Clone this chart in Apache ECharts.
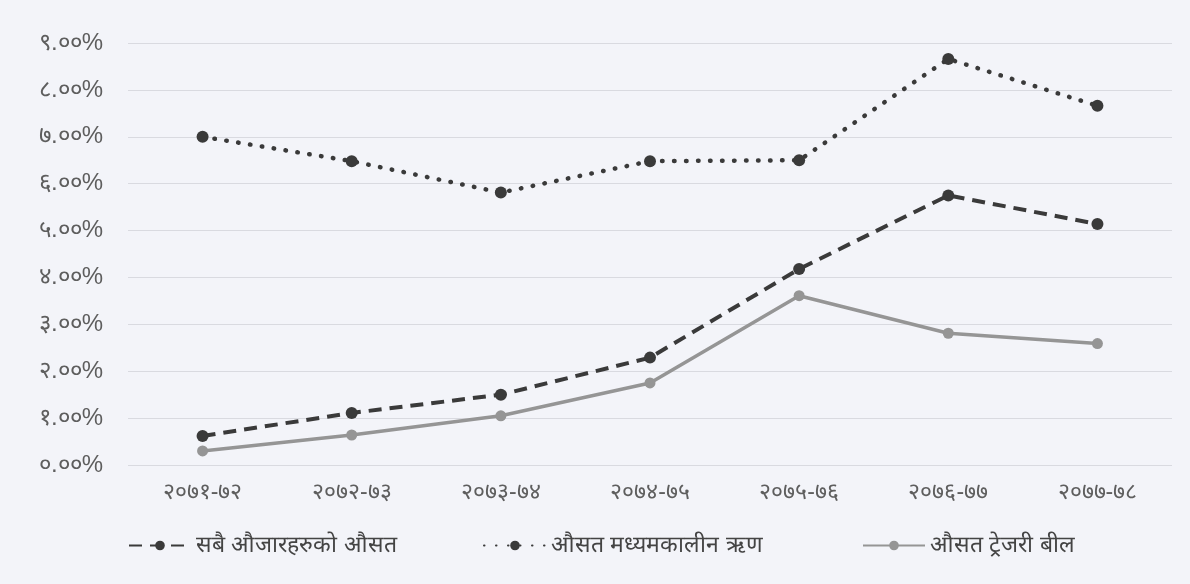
<!DOCTYPE html>
<html>
<head>
<meta charset="utf-8">
<script src="https://cdn.jsdelivr.net/npm/echarts@6/dist/echarts.min.js"></script>
<style>
html,body{margin:0;padding:0;background:#f3f4f9;}
#c{width:1190px;height:584px;}
</style>
</head>
<body>
<div id="c"></div>
<script>
const categories = ['२०७१-७२','२०७२-७३','२०७३-७४','२०७४-७५','२०७५-७६','२०७६-७७','२०७७-७८'];
const seriesNames = ['सबै औजारहरुको औसत','औसत मध्यमकालीन ऋण','औसत ट्रेजरी बील'];
const allInstrumentsAvg = [0.62, 1.11, 1.50, 2.29, 4.18, 5.75, 5.14];
const mediumTermLoanAvg = [7.00, 6.48, 5.81, 6.48, 6.50, 8.66, 7.66];
const treasuryBillAvg = [0.30, 0.64, 1.05, 1.75, 3.61, 2.81, 2.59];
const yTickLabels = ['०.००%','१.००%','२.००%','३.००%','४.००%','५.००%','६.००%','७.००%','८.००%','९.००%'];

const chart = echarts.init(document.getElementById('c'));
const txt = '#5e5e5e';
const legendLefts = [123, 478, 857];
const legendBase = {
  top: 529, itemWidth: 62, itemHeight: 12,
  textStyle: {color: '#444', fontSize: 23}
};
chart.setOption({
  backgroundColor: '#f3f4f9',
  animation: false,
  grid: {left: 128, right: 18, top: 43, bottom: 119},
  xAxis: {
    type: 'category',
    data: categories,
    boundaryGap: true,
    axisLine: {show: false},
    axisTick: {show: false},
    axisLabel: {color: txt, fontSize: 23, margin: 16}
  },
  yAxis: {
    type: 'value',
    min: 0, max: 9, interval: 1,
    axisLine: {show: false},
    axisTick: {show: false},
    splitLine: {lineStyle: {color: '#d9dae0', width: 1}},
    axisLabel: {
      color: txt, fontSize: 24, margin: 25,
      formatter: function(v){ return yTickLabels[Math.round(v)]; }
    }
  },
  legend: seriesNames.map(function(n, i){
    return Object.assign({}, legendBase, {left: legendLefts[i], data: [n]});
  }),
  series: [
    {
      name: seriesNames[0], type: 'line', data: allInstrumentsAvg,
      symbol: 'circle', symbolSize: 12,
      itemStyle: {color: '#3a3a3a'},
      lineStyle: {color: '#3a3a3a', width: 4, type: [13, 8]}
    },
    {
      name: seriesNames[1], type: 'line', data: mediumTermLoanAvg,
      symbol: 'circle', symbolSize: 12,
      itemStyle: {color: '#3a3a3a'},
      lineStyle: {color: '#3a3a3a', width: 4.5, type: [0.5, 11.5], cap: 'round'}
    },
    {
      name: seriesNames[2], type: 'line', data: treasuryBillAvg,
      symbol: 'circle', symbolSize: 11,
      itemStyle: {color: '#959595'},
      lineStyle: {color: '#959595', width: 3.5}
    }
  ]
});
</script>
</body>
</html>
